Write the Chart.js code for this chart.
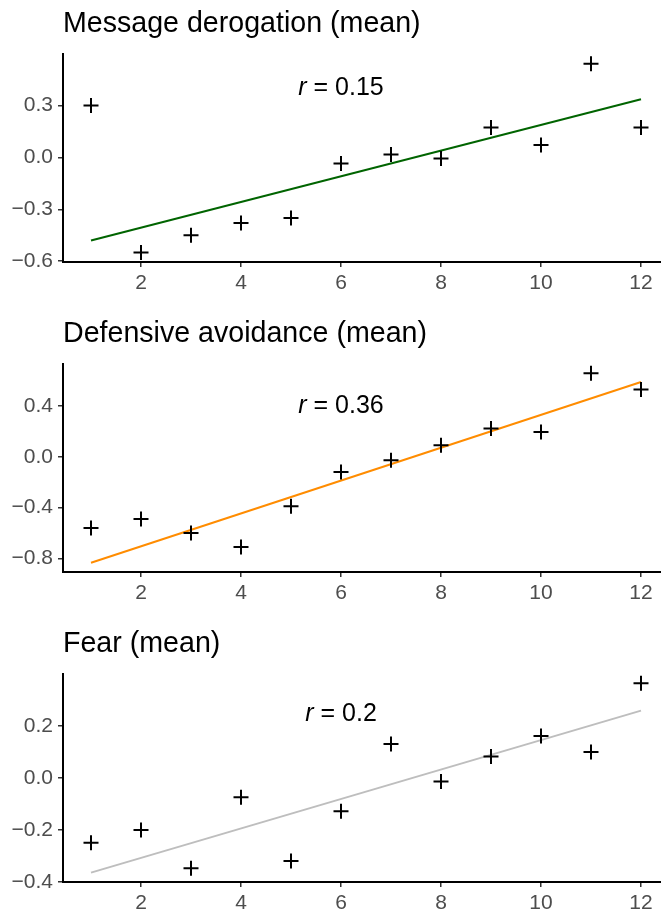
<!DOCTYPE html>
<html>
<head>
<meta charset="utf-8">
<script src="https://cdn.jsdelivr.net/npm/chart.js@4.4.1/dist/chart.umd.min.js"></script>
<style>
    html, body { margin: 0; padding: 0; background: #fff; overflow: hidden; }
    canvas.panel { position: absolute; left: 0; }
</style>
</head>
<body>
<canvas id="derogationChart" class="panel" width="661" height="302" style="top:0px"></canvas>
<canvas id="avoidanceChart" class="panel" width="661" height="302" style="top:310px"></canvas>
<canvas id="fearChart" class="panel" width="661" height="302" style="top:620px"></canvas>
<script>
// x positions (1..12) and axis ticks
const weeks = [1, 2, 3, 4, 5, 6, 7, 8, 9, 10, 11, 12];
const xTicks = [2, 4, 6, 8, 10, 12];
const fitX = [1, 12];

// means
const derogationMeans = [0.30, -0.55, -0.45, -0.38, -0.35, -0.035, 0.017, -0.006, 0.173, 0.071, 0.542, 0.173];
const avoidanceMeans = [-0.56, -0.49, -0.60, -0.71, -0.39, -0.12, -0.026, 0.092, 0.224, 0.197, 0.661, 0.531];
const fearMeans = [-0.249, -0.20, -0.347, -0.074, -0.319, -0.128, 0.131, -0.013, 0.083, 0.162, 0.10, 0.364];

// fitted line end points (at x = 1 and x = 12)
const derogationFit = [-0.481, 0.336];
const avoidanceFit = [-0.835, 0.591];
const fearFit = [-0.364, 0.259];

const derogationTicks = [-0.6, -0.3, 0.0, 0.3];
const avoidanceTicks = [-0.8, -0.4, 0.0, 0.4];
const fearTicks = [-0.4, -0.2, 0.0, 0.2];

const FONT = "'Liberation Sans', Arial, sans-serif";

// title at top-left of plot + italic "r = x" label
const panelText = {
    id: 'panelText',
    afterDraw(chart, args, opts) {
        const ctx = chart.ctx;
        const area = chart.chartArea;
        ctx.save();
        ctx.fillStyle = '#000';
        ctx.textBaseline = 'alphabetic';
        ctx.textAlign = 'left';
        ctx.font = '28.6px ' + FONT;
        ctx.fillText(opts.title, area.left, 32);

        const px = chart.scales.x.getPixelForValue(opts.at[0]);
        const py = chart.scales.y.getPixelForValue(opts.at[1]);
        const italic = 'italic 25px ' + FONT;
        const plain = '25px ' + FONT;
        ctx.font = italic;
        const wr = ctx.measureText('r').width;
        ctx.font = plain;
        const rest = ' = ' + opts.r;
        const wrest = ctx.measureText(rest).width;
        let x0 = px - (wr + wrest) / 2;
        ctx.textBaseline = 'middle';
        ctx.font = italic;
        ctx.fillText('r', x0, py);
        ctx.font = plain;
        ctx.fillText(rest, x0 + wr, py);
        ctx.restore();
    }
};

function fmt(v) {
    return (v < 0 ? '\u2212' : '') + Math.abs(v).toFixed(1);
}

function makePanel(id, means, fit, yTicks, yMin, yMax, lineColor, title, r, rY) {
    const el = document.getElementById(id);
    return new Chart(el, {
        type: 'scatter',
        data: {
            datasets: [{
                data: weeks.map((w, i) => ({ x: w, y: means[i] })),
                pointStyle: 'cross',
                pointRadius: 7.5,
                pointBorderWidth: 2,
                pointBorderColor: '#000',
                showLine: false,
                order: 1
            }, {
                type: 'line',
                data: fitX.map((w, i) => ({ x: w, y: fit[i] })),
                borderColor: lineColor,
                borderWidth: 2,
                pointRadius: 0,
                fill: false,
                order: 2
            }]
        },
        options: {
            responsive: false,
            animation: false,
            layout: { autoPadding: false, padding: { top: 54, left: 0, right: 0, bottom: 0 } },
            plugins: {
                legend: { display: false },
                tooltip: { enabled: false },
                panelText: { title: title, r: r, at: [6, rY] }
            },
            scales: {
                x: {
                    type: 'linear',
                    min: 0.44,
                    max: 12.4,
                    afterBuildTicks: s => { s.ticks = xTicks.map(v => ({ value: v })); },
                    afterFit: s => { s.height = 40; s.paddingLeft = 0; s.paddingRight = 0; },
                    grid: { drawOnChartArea: false, drawTicks: true, tickLength: 5, color: '#333', lineWidth: 1.5 },
                    border: { display: true, color: '#000', width: 2 },
                    ticks: { color: '#4d4d4d', padding: 4, font: { family: FONT, size: 21 } }
                },
                y: {
                    type: 'linear',
                    min: yMin,
                    max: yMax,
                    afterBuildTicks: s => { s.ticks = yTicks.map(v => ({ value: v })); },
                    afterFit: s => { s.width = 63; s.paddingTop = 0; s.paddingBottom = 0; },
                    grid: { drawOnChartArea: false, drawTicks: true, tickLength: 5, color: '#333', lineWidth: 1.5 },
                    border: { display: true, color: '#000', width: 2 },
                    ticks: { color: '#4d4d4d', padding: 5, font: { family: FONT, size: 21 }, callback: v => fmt(v) }
                }
            }
        },
        plugins: [panelText]
    });
}

makePanel('derogationChart', derogationMeans, derogationFit, derogationTicks, -0.605, 0.598,
    '#006400', 'Message derogation (mean)', '0.15', 0.4);
makePanel('avoidanceChart', avoidanceMeans, avoidanceFit, avoidanceTicks, -0.908, 0.733,
    '#FF8C00', 'Defensive avoidance (mean)', '0.36', 0.4);
makePanel('fearChart', fearMeans, fearFit, fearTicks, -0.4, 0.4,
    '#BEBEBE', 'Fear (mean)', '0.2', 0.246);
</script>
</body>
</html>
